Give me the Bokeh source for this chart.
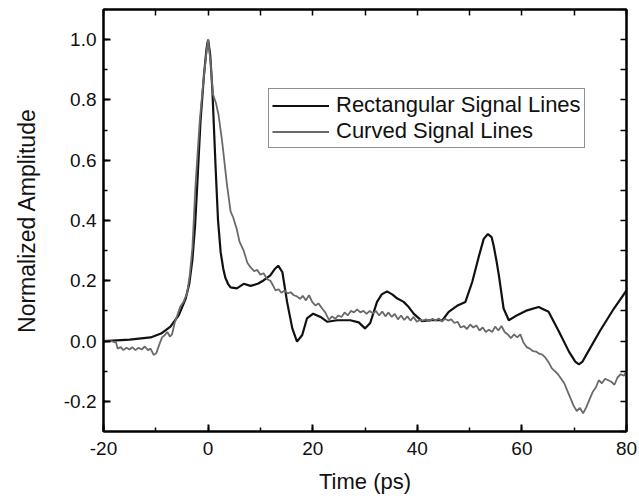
from bokeh.plotting import figure
from bokeh.models import (LinearAxis, SingleIntervalTicker, FixedTicker, NumeralTickFormatter,
                          Legend, LegendItem, Range1d)
from bokeh.embed import file_html
from bokeh.resources import INLINE
import numpy as np

# ---------------- data ----------------
rect_t = [-20, -15, -11, -9, -7.2, -5.6, -4.3, -3.6, -3.0, -2.5, -2.1, -1.45, -0.8, -0.3, 0,
          0.4, 0.8, 1.45, 1.9, 2.4, 2.9, 3.3, 3.8, 4.3, 5.5, 6.8, 8.1, 9.5, 10.6, 11.9,
          12.8, 13.4, 14.2, 15.1, 16.1, 17.0, 18.0, 18.9, 20.1, 21.5, 22.8, 24.7, 27.2,
          28.8, 30.0, 31.0, 32.3, 33.2, 34.2, 35.2, 36.2, 37.4, 38.4, 39.3, 40.9, 42.5,
          44.8, 46.0, 47.6, 49.2, 50.5, 51.8, 52.7, 53.5, 54.2, 54.6, 55.1, 55.6, 56.5,
          57.5, 59.1, 61.0, 63.2, 65.1, 67.1, 69.0, 70.2, 70.9, 71.6, 72.5, 75.0, 77.6, 80]
rect_a = [0.0, 0.005, 0.012, 0.025, 0.048, 0.086, 0.14, 0.19, 0.27, 0.38, 0.51, 0.73, 0.88, 0.97, 1.0,
          0.95, 0.84, 0.57, 0.40, 0.295, 0.24, 0.21, 0.19, 0.178, 0.175, 0.19, 0.183, 0.19, 0.201, 0.218,
          0.24, 0.25, 0.229, 0.13, 0.042, -0.002, 0.02, 0.075, 0.091, 0.08, 0.064, 0.069, 0.069,
          0.062, 0.042, 0.06, 0.13, 0.155, 0.165, 0.155, 0.141, 0.13, 0.112, 0.091, 0.066, 0.069,
          0.069, 0.097, 0.117, 0.13, 0.196, 0.283, 0.339, 0.355, 0.345, 0.316, 0.27, 0.218, 0.108,
          0.069, 0.086, 0.102, 0.113, 0.097, 0.031, -0.035, -0.068, -0.077, -0.068, -0.04, 0.036, 0.108, 0.168]

curv_t = [-20, -18.5, -17.6, -17.3, -16.7, -16.2, -15.6, -15.0, -14.5, -13.9, -13.3, -12.7,
          -12.1, -11.5, -11.0, -10.4, -9.9, -9.3, -8.8, -8.3, -7.8, -7.3, -6.9, -6.4, -5.9,
          -5.3, -4.7, -4.0, -3.5, -3.0, -2.4, -1.6, -0.8, -0.3, 0, 0.5, 0.9, 1.5, 2.0, 2.7,
          3.6, 4.3, 4.8, 5.5, 6.0, 6.8, 7.5, 8.1, 8.8, 9.4, 10.0, 10.6, 11.3, 11.9, 12.4,
          12.9, 13.5, 14.0, 14.6, 15.2, 15.8, 16.4, 17.0, 17.6, 18.1, 18.7, 19.3, 19.9,
          20.5, 21.1, 21.8, 22.4, 23.1, 23.7, 24.3, 24.9, 25.5, 26.1, 26.7, 27.3, 27.9,
          28.5, 29.1, 29.7, 30.3, 30.9, 31.5, 32.1, 32.7, 33.3, 33.9, 34.5, 35.1, 35.7,
          36.3, 36.9, 37.5, 38.1, 38.7, 39.3, 39.9, 40.5, 41.1, 41.7, 42.3, 42.9, 43.5,
          44.1, 44.7, 45.3, 45.9, 46.5, 47.1, 47.7, 48.3, 48.9, 49.5, 50.1, 50.7, 51.3,
          51.9, 52.5, 53.1, 53.7, 54.3, 54.9, 55.5, 56.1, 56.7, 57.3, 57.9, 58.5, 59.1,
          59.7, 60.3, 60.9, 61.5, 62.1, 62.7, 63.3, 63.9, 64.5, 65.1, 65.7, 66.3, 66.9,
          67.5, 68.1, 68.7, 69.3, 69.9, 70.5, 71.1, 71.7, 72.3, 72.9, 73.5, 74.1, 74.7,
          75.3, 75.9, 76.5, 77.1, 77.7, 78.3, 78.9, 79.5, 80]
curv_a = [0.0, 0.0, -0.005, -0.025, -0.02, -0.03, -0.022, -0.028, -0.02, -0.03, -0.022, -0.028,
          -0.018, -0.03, -0.025, -0.046, -0.04, -0.01, 0.012, 0.02, 0.03, 0.015, 0.022, 0.06, 0.085,
          0.115, 0.13, 0.16, 0.22, 0.31, 0.52, 0.73, 0.88, 0.96, 1.0, 0.92, 0.82, 0.79, 0.75, 0.66,
          0.52, 0.43, 0.41, 0.37, 0.33, 0.30, 0.26, 0.245, 0.232, 0.236, 0.22, 0.225, 0.205, 0.2, 0.185,
          0.168, 0.172, 0.16, 0.168, 0.158, 0.162, 0.152, 0.148, 0.14, 0.15, 0.135, 0.152, 0.13,
          0.118, 0.125, 0.108, 0.095, 0.07, 0.082, 0.074, 0.085, 0.08, 0.095, 0.085, 0.1, 0.095,
          0.105, 0.095, 0.1, 0.09, 0.1, 0.092, 0.1, 0.085, 0.098, 0.082, 0.095, 0.08, 0.09,
          0.072, 0.085, 0.07, 0.082, 0.068, 0.08, 0.064, 0.07, 0.068, 0.072, 0.066, 0.074, 0.068,
          0.075, 0.065, 0.074, 0.068, 0.072, 0.06, 0.064, 0.045, 0.05, 0.04, 0.055, 0.045, 0.052,
          0.035, 0.045, 0.03, 0.038, 0.03, 0.048, 0.035, 0.05, 0.03, 0.022, 0.01, 0.022, 0.012,
          0.022, -0.005, -0.02, -0.025, -0.033, -0.035, -0.042, -0.045, -0.055, -0.07, -0.09, -0.1, -0.11,
          -0.125, -0.14, -0.165, -0.19, -0.215, -0.232, -0.222, -0.24, -0.22, -0.195, -0.17, -0.155, -0.13,
          -0.14, -0.125, -0.13, -0.135, -0.145, -0.12, -0.11, -0.115, -0.1]

series_names = ["Rectangular Signal Lines", "Curved Signal Lines"]
x_label = "Time (ps)"
y_label = "Normalized Amplitude"

FONT = "Liberation Sans"
X0, X1, Y0, Y1 = -20, 80, -0.3, 1.1
W, H = 639, 499

p = figure(width=W, height=H, x_range=Range1d(X0, X1), y_range=Range1d(Y0, Y1),
           output_backend="svg", toolbar_location=None,
           min_border_left=103, min_border_right=13, min_border_top=9, min_border_bottom=68)
p.grid.visible = False
p.outline_line_color = "black"
p.outline_line_width = 2
p.background_fill_color = "white"
p.border_fill_color = "white"


def style(ax):
    ax.axis_line_width = 2
    ax.axis_line_color = "black"
    ax.major_tick_in = 7
    ax.major_tick_out = 0
    ax.minor_tick_in = 4
    ax.minor_tick_out = 0
    ax.major_tick_line_width = 2
    ax.minor_tick_line_width = 1.5
    ax.major_tick_line_color = "black"
    ax.minor_tick_line_color = "black"
    ax.major_label_text_font = FONT
    ax.major_label_text_font_size = "19px"
    ax.major_label_text_color = "#111111"
    ax.axis_label_text_font = FONT
    ax.axis_label_text_font_size = "22px"
    ax.axis_label_text_font_style = "normal"
    ax.axis_label_text_color = "#111111"


xa = p.xaxis[0]
xa.ticker = SingleIntervalTicker(interval=20, num_minor_ticks=2)
xa.formatter = NumeralTickFormatter(format="0")
xa.axis_label = x_label
style(xa)
xa.major_label_standoff = 10
xa.axis_label_standoff = 11

ya = p.yaxis[0]
ya.ticker = SingleIntervalTicker(interval=0.2, num_minor_ticks=2)
ya.formatter = NumeralTickFormatter(format="0.0")
ya.axis_label = y_label
style(ya)
ya.axis_label_text_font_size = "23px"
ya.major_label_standoff = 7
ya.axis_label_standoff = 21

# mirrored tick marks (no labels) on top and right
top_ticks = list(np.arange(X0, X1 + 1e-9, 10))
right_ticks = list(np.round(np.arange(Y0, Y1 + 1e-9, 0.1), 2))
for ticks, side in ((top_ticks, "above"), (right_ticks, "right")):
    ax = LinearAxis(ticker=FixedTicker(ticks=[], minor_ticks=ticks))
    ax.axis_line_width = 2
    ax.axis_line_color = "black"
    ax.minor_tick_in = 6
    ax.minor_tick_out = 0
    ax.minor_tick_line_width = 1.5
    ax.minor_tick_line_color = "black"
    ax.major_label_standoff = 0
    p.add_layout(ax, side)

r1 = p.line(rect_t, rect_a, line_color="#111111", line_width=2.2)
r2 = p.line(curv_t, curv_a, line_color="#6a6a6a", line_width=1.8)

legend = Legend(items=[LegendItem(label=series_names[0], renderers=[r1]),
                       LegendItem(label=series_names[1], renderers=[r2])],
                location=(165, 283), margin=0, padding=3, spacing=0,
                glyph_width=57, glyph_height=25, label_height=25, label_standoff=7,
                label_text_font=FONT, label_text_font_size="22px", label_text_color="#111111",
                border_line_color="#222222", border_line_width=1.5,
                background_fill_color="white", background_fill_alpha=1)
p.add_layout(legend, "center")

open("out.html", "w").write(file_html(p, INLINE))
